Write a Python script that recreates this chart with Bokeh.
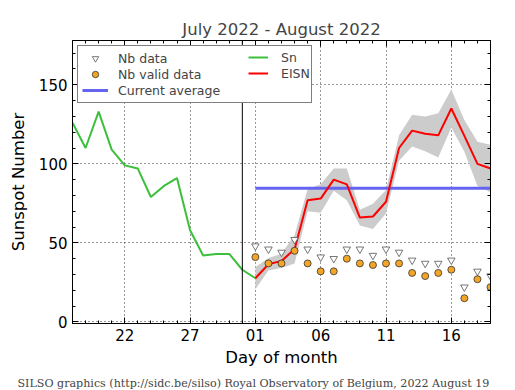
from bokeh.plotting import figure
from bokeh.models import (Range1d, FixedTicker, LinearAxis, Title, Legend, LegendItem, Span,
                          CustomJSTickFormatter)
from bokeh.embed import file_html
from bokeh.resources import INLINE

# ---- data ----
jul_days = [18, 19, 20, 21, 22, 23, 24, 25, 26, 27, 28, 29, 30, 31]
sn_jul = [126, 110, 133, 109, 99, 97, 79, 86, 91, 58, 42, 43, 43, 33]
aug_days = list(range(1, 20))
eisn = [27.6, 36.5, 38.6, 46, 77, 78, 90, 87, 66, 66.7, 76, 110, 121, 119, 118, 135, 117.7, 100, 97]
eisn_err = [7, 4, 4.5, 9, 7, 9, 7, 10, 5, 8, 7.5, 8, 10, 11, 14, 12, 10, 14, 15]
nb_data = [48, 46, 44, 52, 46, 41, 40, 46, 46, 42, 46, 44, 39, 37, 37, 39, 22, 32, 29]
nb_valid = [41, 37, 37, 45, 37, 32, 32, 40, 37, 36, 37, 37, 31, 29, 31, 33, 15, 27, 22]
current_average = 84.6
tick_days_offset = [-9, -4, 1, 6, 11, 16]
tick_labels = ["22", "27", "01", "06", "11", "16"]

# x coordinate: days relative to July 31 (=0)
x_jul = [d - 31 for d in jul_days]
x_aug = aug_days
x_sn = x_jul + [x_aug[0]]
y_sn = sn_jul + [eisn[0]]
lower = [e - s for e, s in zip(eisn, eisn_err)]
upper = [e + s for e, s in zip(eisn, eisn_err)]

FONT = "DejaVu Sans"
FW, FH = 418, 283

p = figure(frame_width=FW, frame_height=FH, output_backend="svg", toolbar_location=None,
           x_range=Range1d(-13, 19), y_range=Range1d(-1, 178),
           min_border_left=72, min_border_right=17, min_border_top=40, min_border_bottom=64)
p.title.text = "July 2022 - August 2022"
p.title.align = "center"
p.title.text_font = FONT
p.title.text_font_size = "16.5px"
p.title.text_font_style = "normal"
p.title.standoff = 4
p.outline_line_color = "black"
p.outline_line_width = 1

band = p.varea(x=x_aug, y1=lower, y2=upper, fill_color="#cccccc", fill_alpha=1.0)
avg = p.line(x=[x_aug[0], x_aug[-1]], y=[current_average, current_average], line_color="#6464f0", line_width=3)
sn = p.line(x=x_sn, y=y_sn, line_color="#3cc03c", line_width=2)
red = p.line(x=x_aug, y=eisn, line_color="red", line_width=2)
p.add_layout(Span(location=0, dimension="height", line_color="black", line_width=1))
tri = p.scatter(x=x_aug, y=nb_data, marker="inverted_triangle", size=7.5, line_color="#555555", fill_color="white", line_width=0.8)
circ = p.scatter(x=x_aug, y=nb_valid, marker="circle", size=7, line_color="#333333", fill_color="#f2a526", line_width=0.8)

xt = FixedTicker(ticks=tick_days_offset, minor_ticks=list(range(-13, 20)))
yt = FixedTicker(ticks=[0, 50, 100, 150], minor_ticks=list(range(0, 180, 10)))

def style_axis(ax):
    ax.axis_line_color = "black"
    ax.major_tick_in = 6
    ax.major_tick_out = 0
    ax.minor_tick_in = 3
    ax.minor_tick_out = 0
    ax.major_tick_line_color = "black"
    ax.minor_tick_line_color = "black"
    ax.major_label_text_font = FONT
    ax.major_label_text_font_size = "15px"
    ax.major_label_text_color = "black"
    ax.axis_label_text_font = FONT
    ax.axis_label_text_font_size = "16.5px"
    ax.axis_label_text_font_style = "normal"
    ax.axis_label_text_color = "black"

p.xaxis.ticker = xt
p.xaxis.major_label_overrides = {t: l for t, l in zip(tick_days_offset, tick_labels)}
p.xaxis.axis_label = "Day of month"
p.yaxis.ticker = yt
p.yaxis.axis_label = "Sunspot Number"
style_axis(p.xaxis[0])
style_axis(p.yaxis[0])
p.xaxis.major_label_standoff = 5
p.yaxis.major_label_standoff = 5
p.xaxis.axis_label_standoff = 4
p.yaxis.axis_label_standoff = 8

empty = CustomJSTickFormatter(code="return ''")
top = LinearAxis(ticker=xt, formatter=empty)
style_axis(top)
top.major_label_standoff = 0
p.add_layout(top, "above")
right = LinearAxis(ticker=yt, formatter=empty)
style_axis(right)
right.major_label_standoff = 0
p.add_layout(right, "right")

p.xgrid.ticker = xt
p.ygrid.ticker = yt
for g in (p.xgrid[0], p.ygrid[0]):
    g.grid_line_color = "black"
    g.grid_line_dash = "1 3"
    g.grid_line_width = 1
    g.grid_line_alpha = 0.8

ROW_H, SPACING, PAD = 16, 0, 4

def style_legend(lg):
    lg.label_text_font = FONT
    lg.label_text_font_size = "12.5px"
    lg.label_text_baseline = "middle"
    lg.label_height = ROW_H
    lg.glyph_height = ROW_H
    lg.spacing = SPACING
    lg.padding = PAD

h_b = 2 * ROW_H + 1 * SPACING + 2 * PAD

legend_a = Legend(items=[
    LegendItem(label="Nb data", renderers=[tri]),
    LegendItem(label="Nb valid data", renderers=[circ]),
    LegendItem(label="Current average", renderers=[avg]),
], location="top_left")
style_legend(legend_a)
legend_a.margin = 5
legend_a.glyph_width = 26
legend_a.label_standoff = 10
legend_a.label_width = 189
legend_a.border_line_color = "black"
legend_a.border_line_width = 1
legend_a.background_fill_alpha = 1.0
p.add_layout(legend_a)

legend_b = Legend(items=[
    LegendItem(label="Sn", renderers=[sn]),
    LegendItem(label="EISN", renderers=[red]),
], location=(172, FH - 5 - h_b))
style_legend(legend_b)
legend_b.margin = 0
legend_b.glyph_width = 20
legend_b.label_standoff = 13
legend_b.border_line_alpha = 0
legend_b.background_fill_alpha = 0
p.add_layout(legend_b)

footer = Title(text="SILSO graphics (http://sidc.be/silso) Royal Observatory of Belgium, 2022 August 19",
               align="left", text_font="DejaVu Serif", text_font_size="11.1px",
               text_font_style="normal", offset=-55)
p.add_layout(footer, "below")

open("out.html", "w").write(file_html(p, INLINE))
